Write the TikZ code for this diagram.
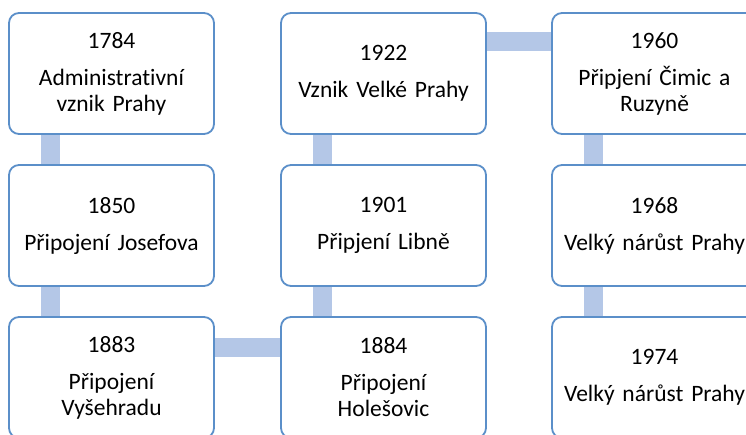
\documentclass[tikz,border=0pt]{standalone}
\usepackage{fontspec}
\setmainfont[Ligatures={NoCommon,NoRare,NoDiscretionary}]{Carlito}
\usepackage{tikz}
\usetikzlibrary{backgrounds}
\definecolor{boxline}{RGB}{91,143,201}
\definecolor{barfill}{RGB}{180,199,231}

\begin{document}
\begin{tikzpicture}[x=1pt, y=-1pt,
		box/.style={draw=boxline, line width=1.8pt, rounded corners=10pt, fill=white,
			minimum width=205pt, minimum height=121pt, text width=195pt, align=center,
			inner sep=0pt, font=\fontsize{23.5}{26}\selectfont},
		bar/.style={draw=barfill, line width=19pt}]
				\clip (0, 0) rectangle (746, 434);
				\node[box] (0) at (111.5, 73.5) {1784\\[11pt]Administrativní\\vznik Prahy};
				\node[box] (1) at (111.5, 225.5) {1850\\[11pt]Připojení Josefova};
				\node[box] (2) at (111.5, 377.5) {1883\\[11pt]Připojení\\Vyšehradu};
				\node[box] (3) at (383.5, 377.5) {1884\\[11pt]Připojení\\Holešovic};
				\node[box] (4) at (383.5, 225.5) {1901\\[11pt]Připjení Libně};
				\node[box] (5) at (383.5, 73.5) {1922\\[11pt]Vznik Velké Prahy};
				\node[box] (6) at (654.5, 73.5) {1960\\[11pt]Připjení Čimic a\\Ruzyně};
				\node[box] (7) at (654.5, 225.5) {1968\\[11pt]Velký nárůst Prahy};
				\node[box] (8) at (654.5, 377.5) {1974\\[11pt]Velký nárůst Prahy};
				\begin{pgfonlayer}{background}
				\draw[bar] ([xshift=42pt]0.south west) to ([xshift=42pt]1.north west);
				\draw[bar] ([xshift=42pt]1.south west) to ([xshift=42pt]2.north west);
				\draw[bar] ([yshift=-31pt]2.north east) to ([yshift=-31pt]3.north west);
				\draw[bar] ([xshift=42pt]3.north west) to ([xshift=42pt]4.south west);
				\draw[bar] ([xshift=42pt]4.north west) to ([xshift=42pt]5.south west);
				\draw[bar] ([yshift=-29.5pt]5.north east) to ([yshift=-29.5pt]6.north west);
				\draw[bar] ([xshift=42pt]6.south west) to ([xshift=42pt]7.north west);
				\draw[bar] ([xshift=42pt]7.south west) to ([xshift=42pt]8.north west);
				\end{pgfonlayer}
			\end{tikzpicture}
\end{document}
